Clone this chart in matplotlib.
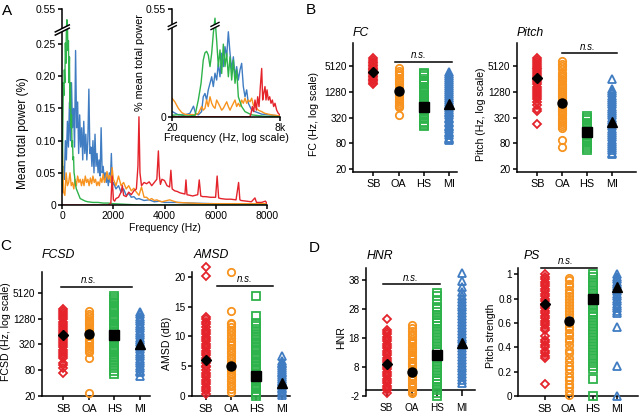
import numpy as np
import matplotlib
matplotlib.use("Agg")
import matplotlib.pyplot as plt
from matplotlib.lines import Line2D
from matplotlib.patches import Polygon
from matplotlib.ticker import NullLocator

plt.rcParams['font.family'] = ['Liberation Sans', 'DejaVu Sans']
plt.rcParams['font.size'] = 7.5
plt.rcParams['axes.unicode_minus'] = False

RED = '#e4232b'
ORANGE = '#f7931e'
GREEN = '#2eb34b'
BLUE = '#3f7cc2'
COLORS = [RED, ORANGE, GREEN, BLUE]
MARKERS = ['D', 'o', 's', '^']
MS = [4.5, 5.3, 5.5, 6.3]
MEAN_MS = [5.4, 6.5, 6.5, 7.5]
GROUPS = ['SB', 'OA', 'HS', 'MI']

# ---------------- panel A: spectra, linear frequency axis ----------------
green_f = [0, 20, 40, 60, 80, 100, 120, 140, 160, 180, 200, 220, 240, 260, 280, 300, 320, 340, 360, 380,
           400, 420, 440, 460, 480, 500, 550, 600, 650, 700, 800, 900, 1000, 1200, 1400, 1600, 1800, 2000,
           2500, 3000, 8000]
green_p = [0.03, 0.12, 0.19, 0.17, 0.21, 0.19, 0.26, 0.22, 0.38, 0.46, 0.41, 0.24, 0.28, 0.19, 0.23, 0.15,
           0.19, 0.12, 0.14, 0.09, 0.10, 0.07, 0.075, 0.05, 0.045, 0.035, 0.025, 0.02, 0.015, 0.01, 0.008,
           0.006, 0.005, 0.004, 0.004, 0.003, 0.003, 0.002, 0.001, 0.0, 0.0]

blue_f = np.r_[0:2001:40, 2100:3001:100, 3200, 3400, 3600, 3800, 4000, 4500, 5000, 6000, 7000, 8000]
blue_p = [0.02, 0.06, 0.04, 0.10, 0.07, 0.13, 0.09, 0.16, 0.10, 0.19, 0.12, 0.15, 0.09, 0.24, 0.12, 0.16,
          0.08, 0.14, 0.09, 0.12, 0.07, 0.13, 0.08, 0.11, 0.07, 0.10, 0.18, 0.08, 0.09, 0.06, 0.10, 0.05,
          0.11, 0.06, 0.08, 0.05, 0.07, 0.045, 0.12, 0.05, 0.06, 0.04, 0.05, 0.035, 0.045, 0.03, 0.05,
          0.035, 0.08, 0.03, 0.035,
          0.025, 0.03, 0.02, 0.025, 0.015, 0.018, 0.012, 0.013, 0.009, 0.01,
          0.007, 0.008, 0.005, 0.006, 0.004, 0.004, 0.003, 0.002, 0.002, 0.001]

orange_f = np.r_[0:2001:50, 2100:4001:100, 4200, 4500, 5000, 5500, 6000, 7000, 8000]
orange_p = [0.09, 0.02, 0.015, 0.05, 0.03, 0.035, 0.05, 0.03, 0.035, 0.025, 0.04, 0.03, 0.045, 0.035,
            0.04, 0.03, 0.04, 0.03, 0.045, 0.035, 0.04, 0.03, 0.042, 0.033, 0.045, 0.035, 0.04, 0.03,
            0.036, 0.03, 0.042, 0.035, 0.048, 0.035, 0.042, 0.052, 0.04, 0.046, 0.035, 0.058, 0.04,
            0.03, 0.045, 0.03, 0.035, 0.025, 0.03, 0.022, 0.026, 0.02, 0.015, 0.028, 0.012, 0.012, 0.008,
            0.01, 0.007, 0.008, 0.006, 0.005, 0.006,
            0.008, 0.004, 0.003, 0.002, 0.002, 0.002, 0.002]

red_f = [0, 1800, 1900, 1950, 2000, 2050, 2100, 2200, 2300, 2350, 2400, 2500, 2600, 2700, 2800, 2900,
         2960, 3000, 3040, 3100, 3200, 3300, 3400, 3500, 3600, 3700, 3760, 3800, 3840, 3900, 4000, 4100,
         4200, 4250, 4300, 4400, 4500, 4600, 4700, 4800, 4840, 4880, 5000, 5100, 5200, 5300, 5360, 5420,
         5500, 5600, 5800, 6000, 6060, 6120, 6200, 6400, 6600, 6800, 6900, 6950, 7000, 7200, 7400, 7540,
         7600, 7800, 7950, 8000]
red_p = [0, 0, 0.003, 0.045, 0.008, 0.006, 0.01, 0.012, 0.02, 0.03, 0.015, 0.013, 0.02, 0.016, 0.022,
         0.025, 0.06, 0.137, 0.05, 0.03, 0.035, 0.033, 0.036, 0.03, 0.035, 0.04, 0.084, 0.045, 0.032, 0.04,
         0.038, 0.03, 0.028, 0.054, 0.025, 0.022, 0.021, 0.019, 0.018, 0.017, 0.039, 0.016, 0.015, 0.014,
         0.015, 0.016, 0.039, 0.014, 0.013, 0.013, 0.012, 0.012, 0.045, 0.011, 0.01, 0.009, 0.009, 0.008,
         0.035, 0.008, 0.007, 0.006, 0.005, 0.011, 0.004, 0.004, 0.006, 0.003]

# ---------------- panel A inset: log frequency axis ----------------
green_if = [20, 30, 40, 50, 60, 71, 85, 99, 112, 123, 135, 148, 163, 179, 196, 215, 236, 259, 284, 312,
            342, 375, 412, 452, 496, 544, 597, 655, 718, 788, 948, 1142, 1656, 3476, 8000]
green_ip = [0.004, 0.006, 0.002, 0.002, 0.003, 0.004, 0.046, 0.092, 0.156, 0.176, 0.18, 0.17, 0.138,
            0.175, 0.23, 0.39, 0.21, 0.138, 0.184, 0.119, 0.2, 0.138, 0.175, 0.11, 0.165, 0.101, 0.156,
            0.092, 0.129, 0.055, 0.028, 0.014, 0.005, 0.001, 0.0]
blue_if = [20, 28, 40, 53, 65, 73, 85, 102, 112, 123, 135, 148, 163, 179, 196, 215, 236, 259, 284, 312,
           342, 375, 412, 452, 496, 544, 597, 655, 718, 788, 865, 948, 1040, 1142, 1252, 1374, 1656, 1993,
           2890, 8000]
blue_ip = [0.014, 0.005, 0.005, 0.009, 0.029, 0.009, 0.005, 0.014, 0.055, 0.064, 0.046, 0.074, 0.092,
           0.11, 0.083, 0.12, 0.101, 0.147, 0.11, 0.175, 0.138, 0.193, 0.165, 0.234, 0.175, 0.129, 0.165,
           0.11, 0.138, 0.101, 0.129, 0.147, 0.083, 0.055, 0.074, 0.037, 0.018, 0.014, 0.007, 0.002]
orange_if = [20, 23, 28, 34, 40, 49, 59, 71, 85, 93, 102, 112, 123, 135, 148, 163, 179, 196, 215, 236,
             259, 284, 312, 342, 375, 412, 452, 496, 544, 597, 655, 718, 788, 865, 948, 1040, 1142, 1252,
             1374, 1508, 1656, 1815, 1993, 2396, 2890, 3476, 5040, 8000]
orange_ip = [0.05, 0.041, 0.023, 0.011, 0.007, 0.005, 0.006, 0.005, 0.009, 0.018, 0.028, 0.018, 0.023,
             0.046, 0.028, 0.055, 0.037, 0.028, 0.023, 0.046, 0.037, 0.028, 0.018, 0.023, 0.032, 0.041,
             0.028, 0.018, 0.028, 0.037, 0.046, 0.028, 0.037, 0.028, 0.046, 0.037, 0.051, 0.037, 0.046,
             0.041, 0.051, 0.032, 0.028, 0.018, 0.014, 0.009, 0.005, 0.002]
red_if = [20, 1500, 1595, 1718, 1850, 1993, 2146, 2312, 2490, 2681, 2888, 3052, 3226, 3476, 3674, 3884,
          4183, 4505, 4852, 5225, 5627, 6060, 6650, 7300, 8000]
red_ip = [0, 0, 0.009, 0.028, 0.014, 0.046, 0.018, 0.055, 0.028, 0.083, 0.133, 0.046, 0.064, 0.083,
          0.046, 0.074, 0.046, 0.055, 0.037, 0.046, 0.028, 0.037, 0.018, 0.009, 0.005]

# ---------------- panels B-D: per-call values ----------------
fc_sb = [7700, 7000, 6500, 6000, 5500, 5100, 4700, 4400, 4100, 3800, 3500, 3250, 3000, 2800, 2600, 2400,
         2250, 2100, 2000]
fc_oa = [4500, 4000, 3500, 3100, 2700, 2400, 2150, 1900, 1700, 1500, 1350, 1200, 1080, 960, 860, 770,
         700, 640, 600, 560, 365]
fc_hs = [3600, 3260, 2940, 2610, 2340, 2100, 1900, 1700, 1500, 1350, 1200, 1080, 960, 860, 770, 690, 620,
         560, 500, 450, 400, 360, 320, 290, 260, 235, 215, 200]
fc_mi = [3800, 3400, 3050, 2750, 2450, 2200, 1980, 1780, 1600, 1430, 1290, 1160, 1040, 930, 840, 750, 680,
         610, 550, 490, 440, 400, 360, 320, 290, 260, 235, 210, 190, 170, 152, 137, 123, 110, 100, 95]
fc_mean = [3800, 1350, 574, 670]

pitch_sb = [7900, 7100, 6400, 5800, 5200, 4700, 4300, 3900, 3500, 3200, 2900, 2600, 2350, 2150, 1950,
            1700, 1500, 1350, 1200, 1080, 960, 860, 740, 620, 520, 460, 226]
pitch_oa = [6600, 5760, 5030, 4400, 3600, 3200, 2850, 2550, 2250, 2000, 1780, 1600, 1420, 1270, 1130,
            1000, 900, 800, 710, 640, 570, 510, 450, 400, 360, 320, 285, 255, 225, 200, 180, 97, 66]
pitch_hs = [350, 310, 275, 245, 220, 195, 175, 155, 140, 125, 110, 98, 88, 78, 70, 63, 56]
pitch_mi = [2490, 1490, 1320, 1170, 1040, 920, 820, 730, 650, 580, 510, 455, 405, 360, 320, 285, 250,
            225, 200, 178, 158, 140, 125, 111, 99, 88, 78, 70, 62, 55, 49, 45]
pitch_mean = [2740, 720, 150, 254]

fcsd_sb = [2190, 1950, 1730, 1540, 1370, 1220, 1090, 970, 860, 770, 690, 610, 545, 485, 430, 385, 345,
           305, 272, 242, 215, 192, 170, 150, 120, 105, 88, 69]
fcsd_oa = [1900, 1650, 1450, 1280, 1130, 1000, 890, 790, 700, 620, 550, 490, 435, 385, 340, 300, 265,
           235, 210, 150, 23]
fcsd_hs = [4370, 3900, 3500, 3100, 2900, 2550, 2250, 2000, 1780, 1580, 1400, 1250, 1100, 980, 870, 770,
           690, 610, 540, 480, 430, 380, 340, 300, 265, 235, 210, 185, 165, 150, 135, 125, 105, 88, 75, 65]
fcsd_mi = [1840, 1620, 1430, 1260, 1110, 980, 860, 760, 670, 590, 520, 460, 405, 355, 315, 275, 245, 215,
           190, 168, 148, 130, 115, 101, 89, 78, 72, 60]
fcsd_mean = [540, 570, 540, 320]

amsd_sb = [21.7, 20.1, 13.3, 12.9, 12.4, 12.0, 11.6, 11.1, 10.7, 10.4, 9.9, 9.6, 9.2, 8.7, 8.4, 8.0, 7.5,
           7.2, 6.8, 6.3, 6.0, 5.6, 5.1, 4.8, 4.4, 3.9, 3.6, 3.2, 2.7, 2.4, 2.0, 1.5, 1.2, 0.8, 0.3]
amsd_oa = [20.8, 14.3, 12.3, 12.0, 11.6, 11.1, 10.7, 10.2, 9.8, 9.3, 8.9, 8.5, 8.0, 7.6, 7.2, 6.7, 6.3,
           5.9, 5.4, 5.0, 4.6, 4.2, 3.7, 3.3, 2.9, 2.5, 2.0, 1.6, 1.2, 0.7]
amsd_hs = [16.7, 13.5, 12.3, 11.8, 11.3, 10.8, 10.3, 9.9, 9.5, 9.1, 8.7, 8.3, 7.9, 7.5, 7.1, 6.7, 6.3,
           5.9, 5.5, 5.1, 4.7, 4.3, 3.9, 3.5, 3.1, 2.7, 2.3, 1.9, 1.5, 1.1, 0.7, 0.3, 0.0]
amsd_mi = [6.7, 5.9, 5.6, 5.3, 5.0, 4.7, 4.4, 4.1, 3.8, 3.5, 3.2, 2.9, 2.6, 2.3, 2.0, 1.7, 1.4, 1.1, 0.8,
           0.5, 0.2]
amsd_mean = [6.1, 5.0, 3.4, 2.2]

hnr_sb = [24.4, 20.8, 20.0, 19.2, 18.4, 17.6, 16.8, 16.0, 15.2, 14.4, 13.6, 12.8, 12.0, 11.2, 10.4, 9.6,
          8.8, 8.0, 7.2, 6.4, 5.6, 4.8, 4.0, 3.2, 2.4, 1.6, 0.8, 0.0, -0.9]
hnr_oa = [22.5, 21.5, 20.5, 19.5, 18.6, 17.8, 17.0, 16.2, 15.4, 14.6, 13.8, 13.0, 12.2, 11.4, 10.6, 9.8,
          9.0, 8.2, 7.4, 6.6, 5.8, 5.0, 4.2, 3.4, 2.6, 1.8, 1.0, 0.2, -0.5, -1.1]
hnr_hs = [33.4, 32.6, 31.2, 28.5, 28.0, 27.0, 26.0, 25.0, 24.0, 23.0, 22.0, 21.0, 20.0, 19.0, 18.0, 17.0,
          16.0, 15.0, 14.0, 13.0, 12.0, 11.0, 10.0, 9.0, 8.0, 7.0, 6.0, 5.0, 4.0, 3.0, 2.0, 1.0, 0.0,
          -1.0, -2.0]
hnr_mi = [40.3, 37.5, 35.5, 33.8, 32.5, 31.5, 30.5, 29.5, 28.5, 27.5, 26.5, 25.5, 24.5, 23.5, 22.5, 21.5,
          20.5, 19.5, 18.5, 17.5, 16.5, 15.5, 14.5, 13.5, 12.5, 11.5, 10.5, 9.5, 8.5, 7.5, 6.5, 5.5, 4.5,
          3.5, 2.4]
hnr_mean = [9.0, 6.2, 12.1, 16.4]

ps_sb = [1.0, 0.98, 0.96, 0.94, 0.92, 0.9, 0.88, 0.86, 0.84, 0.82, 0.8, 0.78, 0.76, 0.74, 0.72, 0.7, 0.68,
         0.66, 0.64, 0.62, 0.6, 0.58, 0.56, 0.54, 0.49, 0.46, 0.44, 0.42, 0.4, 0.37, 0.35, 0.33, 0.31, 0.1]
ps_oa = [0.97, 0.95, 0.92, 0.9, 0.87, 0.85, 0.82, 0.8, 0.77, 0.75, 0.72, 0.7, 0.67, 0.65, 0.62, 0.6, 0.57,
         0.55, 0.52, 0.5, 0.47, 0.45, 0.42, 0.38, 0.35, 0.31, 0.28, 0.25, 0.22, 0.19, 0.16, 0.13, 0.1, 0.07,
         0.04, 0.01]
ps_hs = [1.0, 0.975, 0.95, 0.925, 0.9, 0.875, 0.85, 0.825, 0.8, 0.775, 0.75, 0.725, 0.69, 0.675, 0.65,
         0.625, 0.6, 0.575, 0.55, 0.525, 0.5, 0.475, 0.45, 0.425, 0.4, 0.38, 0.35, 0.33, 0.3, 0.275, 0.25,
         0.225, 0.14, 0.0]
ps_mi = [1.0, 0.98, 0.96, 0.94, 0.92, 0.9, 0.88, 0.86, 0.84, 0.82, 0.8, 0.78, 0.76, 0.74, 0.72, 0.7, 0.68,
         0.57, 0.25, 0.0]
ps_mean = [0.756, 0.62, 0.795, 0.893]

W, H = 640, 413
fig = plt.figure(figsize=(6.4, 4.13), dpi=100)


def box(left, top, right, bottom):
    # pixel box -> figure fraction rect
    return [left / W, 1 - bottom / H, (right - left) / W, (bottom - top) / H]


def style(ax, lw=1.1):
    for s in ['top', 'right']:
        ax.spines[s].set_visible(False)
    for s in ['left', 'bottom']:
        ax.spines[s].set_linewidth(lw)
    ax.tick_params(direction='out', length=3, width=lw, labelsize=7.2, pad=1.5)


def broken(k):
    def fwd(y):
        y = np.asarray(y, dtype=float)
        return np.where(y <= 0.25, y, 0.25 + (y - 0.25) * k)

    def inv(y):
        y = np.asarray(y, dtype=float)
        return np.where(y <= 0.25, y, 0.25 + (y - 0.25) / k)
    return fwd, inv


def slash(cx, cy, hw, lw=1.0):
    # "//" axis-break mark, pixel coordinates
    dy = hw * 0.5
    pts = [(cx - hw, cy + dy - 1.6), (cx + hw, cy - dy - 1.6), (cx + hw, cy - dy + 1.6), (cx - hw, cy + dy + 1.6)]
    fig.add_artist(Polygon([(x / W, 1 - y / H) for x, y in pts], closed=True, fc='white', ec='none',
                           transform=fig.transFigure, zorder=20))
    for off in (-1.6, 1.6):
        fig.add_artist(Line2D([(cx - hw) / W, (cx + hw) / W],
                              [1 - (cy + dy + off) / H, 1 - (cy - dy + off) / H],
                              color='k', lw=lw, transform=fig.transFigure, zorder=21))


# ---- A main
axA = fig.add_axes(box(62.3, 9.3, 266.7, 205))
style(axA)
axA.set_yscale('function', functions=broken(0.18))
for f, p, c in [(blue_f, blue_p, BLUE), (orange_f, orange_p, ORANGE), (green_f, green_p, GREEN),
                (red_f, red_p, RED)]:
    axA.plot(f, p, color=c, lw=1.0)
axA.set_xlim(0, 8000)
axA.set_ylim(0, 0.55)
axA.set_xticks([0, 2000, 4000, 6000, 8000])
axA.set_yticks([0, 0.05, 0.10, 0.15, 0.20, 0.25, 0.55])
axA.set_yticklabels(['0', '0.05', '0.10', '0.15', '0.20', '0.25', '0.55'])
axA.tick_params(labelsize=7.5)
axA.set_xlabel('Frequency (Hz)', fontsize=7.5, labelpad=1)
axA.set_ylabel('Mean total power (%)', fontsize=8.5)
axA.yaxis.set_label_coords(-0.165, 0.37)
slash(62.3, 30, 7, 1.1)

# ---- A inset
axI = fig.add_axes(box(172.3, 9.3, 280, 116.7))
style(axI)
axI.patch.set_alpha(0)
axI.set_xscale('log')
axI.set_yscale('function', functions=broken(0.153))
for f, p, c in [(blue_if, blue_ip, BLUE), (orange_if, orange_ip, ORANGE), (green_if, green_ip, GREEN),
                (red_if, red_ip, RED)]:
    axI.plot(f, p, color=c, lw=1.0)
axI.set_xlim(20, 8000)
axI.set_ylim(0, 0.55)
axI.set_xticks([20, 8000])
axI.set_xticklabels(['20', '8k'])
axI.xaxis.set_minor_locator(NullLocator())
axI.set_yticks([0, 0.55])
axI.set_yticklabels(['0', '0.55'])
axI.tick_params(labelsize=7.5)
axI.set_xlabel('Frequency (Hz, log scale)', fontsize=7.8, labelpad=0)
axI.set_ylabel('% mean total power', fontsize=7.8, labelpad=1)
slash(172.3, 26, 4, 1.0)
slash(215, 26, 4, 1.0)


def dot_panel(rect, groups, means, xlim, ylim, log=False):
    ax = fig.add_axes(rect)
    style(ax)
    for i, vals in enumerate(groups):
        ax.plot(np.full(len(vals), i + 1), vals, ls='none', marker=MARKERS[i], ms=MS[i], mfc='none',
                mec=COLORS[i], mew=1.3, clip_on=False, zorder=3)
        ax.plot(i + 1, means[i], marker=MARKERS[i], ms=MEAN_MS[i], color='k', ls='none', zorder=5,
                clip_on=False)
    ax.set_xlim(*xlim)
    if log:
        ax.set_yscale('log', base=2)
        ticks = [20, 80, 320, 1280, 5120]
        ax.set_yticks(ticks)
        ax.set_yticklabels([str(t) for t in ticks])
        ax.yaxis.set_minor_locator(NullLocator())
    ax.set_ylim(*ylim)
    ax.set_xticks([1, 2, 3, 4])
    ax.set_xticklabels(GROUPS, fontsize=7.8)
    ax.tick_params(axis='x', pad=2.5)
    return ax


def ns(ax, x0, x1, y, xt):
    ax.plot([x0, x1], [y, y], color='k', lw=1.1, clip_on=False)
    ax.annotate('n.s.', (xt, y), xytext=(0, 1), textcoords='offset points', ha='center', va='bottom',
                fontsize=7, style='italic', annotation_clip=False)


def title(px, py, s):
    fig.text(px / W, 1 - py / H, s, fontsize=8.8, style='italic', ha='left', va='center')


# ---- B
axFC = dot_panel(box(353.3, 43.3, 457, 171.7), [fc_sb, fc_oa, fc_hs, fc_mi], fc_mean,
                 (0.21, 4.3), (17.6, 17300), log=True)
axFC.set_ylabel('FC (Hz, log scale)', fontsize=7.6)
axFC.yaxis.set_label_coords(-0.33, 0.45)
ns(axFC, 1.86, 4.12, 6450, 2.8)
title(353, 33, 'FC')

axP = dot_panel(box(516.7, 43.3, 636, 171.7), [pitch_sb, pitch_oa, pitch_hs, pitch_mi], pitch_mean,
                (0.17, 4.98), (17.6, 17300), log=True)
axP.set_ylabel('Pitch (Hz, log scale)', fontsize=7.6)
axP.yaxis.set_label_coords(-0.26, 0.45)
ns(axP, 2.0, 4.2, 10150, 3.03)
title(516.7, 33, 'Pitch')

# ---- C
axF = dot_panel(box(41.7, 271.7, 150, 396), [fcsd_sb, fcsd_oa, fcsd_hs, fcsd_mi], fcsd_mean,
                (0.147, 4.4), (20, 15900), log=True)
axF.set_ylabel('FCSD (Hz, log scale)', fontsize=7.6)
axF.yaxis.set_label_coords(-0.28, 0.52)
ns(axF, 0.92, 3.7, 7070, 1.99)
title(41.7, 255, 'FCSD')

axM = dot_panel(box(192, 271.7, 290, 396), [amsd_sb, amsd_oa, amsd_hs, amsd_mi], amsd_mean,
                (0.445, 4.33), (0, 20.86))
axM.set_yticks([0, 5, 10, 15, 20])
axM.set_ylabel('AMSD (dB)', fontsize=7.6)
axM.yaxis.set_label_coords(-0.2, 0.42)
ns(axM, 1.42, 3.67, 18.5, 2.55)
title(194, 255, 'AMSD')

# ---- D
axH = dot_panel(box(365.7, 268.3, 475, 396), [hnr_sb, hnr_oa, hnr_hs, hnr_mi], hnr_mean,
                (0.16, 4.53), (-2, 42))
axH.set_yticks([-2, 8, 18, 28, 38])
axH.spines['bottom'].set_position(('data', 0))
axH.tick_params(axis='x', length=4, pad=5)
axH.set_ylabel('HNR', fontsize=7.6)
axH.yaxis.set_label_coords(-0.18, 0.46)
ns(axH, 0.87, 3.13, 36.6, 1.96)
title(366.7, 256, 'HNR')

axS = dot_panel(box(518.3, 268, 638, 396), [ps_sb, ps_oa, ps_hs, ps_mi], ps_mean,
                (-0.08, 4.85), (0, 1.052))
axS.set_yticks([0, 0.2, 0.4, 0.6, 0.8, 1.0])
axS.set_yticklabels(['0', '0.2', '0.4', '0.6', '0.8', '1'])
axS.set_ylabel('Pitch strength', fontsize=7.6)
axS.yaxis.set_label_coords(-0.185, 0.47)
ns(axS, 0.87, 3.16, 1.054, 1.88)
title(524, 256, 'PS')

# panel letters
for s, px, py in [('A', 7, 11), ('B', 311, 10), ('C', 6, 246), ('D', 314, 248)]:
    fig.text(px / W, 1 - py / H, s, fontsize=11, ha='center', va='center')

fig.savefig('out.png', dpi=100)
